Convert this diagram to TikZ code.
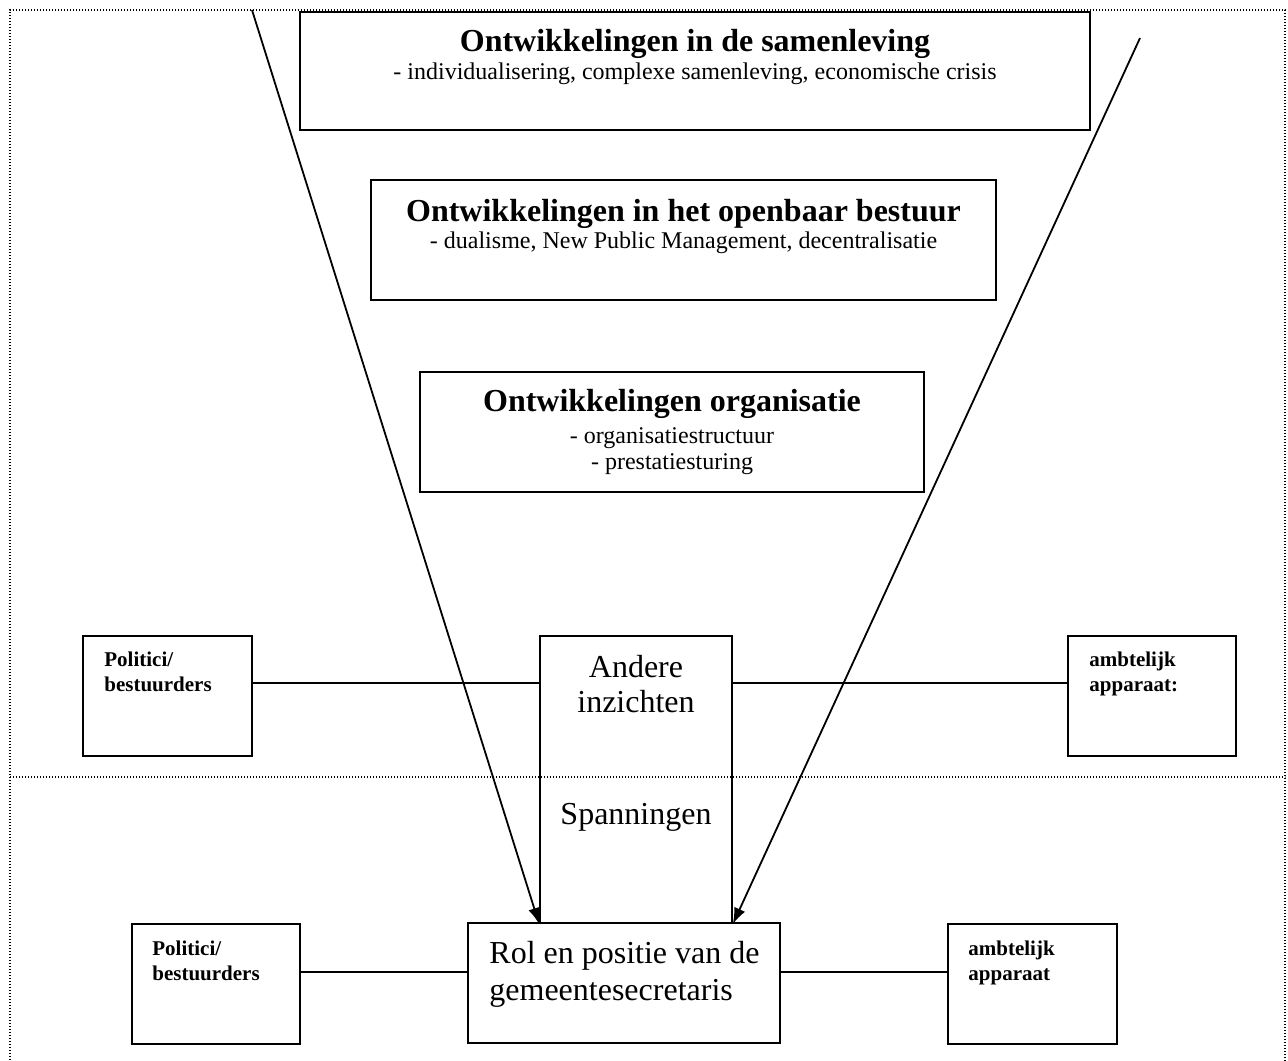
\documentclass[tikz,border=0pt]{standalone}
\usepackage{fontspec}
\setmainfont{Liberation Serif}
\usetikzlibrary{arrows.meta}

\begin{document}
\begin{tikzpicture}[x=0.5pt, y=-0.5pt,
    kader/.style={draw, line width=0.9pt, inner sep=0pt, minimum height=60pt},
    tekst/.style={inner sep=0pt, anchor=base},
    kop/.style={font=\fontsize{16}{19}\selectfont\bfseries},
    sub/.style={font=\fontsize{12}{13}\selectfont, align=center},
    groot/.style={font=\fontsize{16}{17.5}\selectfont},
    klein/.style={font=\fontsize{10.5}{12.5}\selectfont\bfseries, align=left, inner sep=0pt, anchor=base west},
    stip/.style={line width=0.7pt, dash pattern=on 0.7pt off 0.8pt},
    lijn/.style={line width=0.9pt},
    pijl/.style={line width=0.9pt, -{Latex[length=8pt, width=6pt]}}]
    \useasboundingbox (0,0) rectangle (1288,1060);
    \draw[stip] (10,1060) -- (10,10) -- (1285,10) -- (1285,1060);
    \draw[stip] (10,777) -- (1285,777);

    \node[kader, minimum width=395pt, minimum height=59pt] (samenleving) at (695,71) {};
    \node[kop, tekst] (samenlevingkop) at (695,51) {Ontwikkelingen in de samenleving};
    \node[sub, tekst] (samenlevingsub) at (695,79) {- individualisering, complexe samenleving, economische crisis};

    \node[kader, minimum width=312.5pt] (bestuur) at (683.5,240) {};
    \node[kop, tekst] (bestuurkop) at (683.5,221) {Ontwikkelingen in het openbaar bestuur};
    \node[sub, tekst] (bestuursub) at (683.5,248) {- dualisme, New Public Management, decentralisatie};

    \node[kader, minimum width=252pt] (organisatie) at (672,432) {};
    \node[kop, tekst] (organisatiekop) at (672,411) {Ontwikkelingen organisatie};
    \node[sub, tekst] (organisatiesub) at (672,469) {- organisatiestructuur\\- prestatiesturing};

    \node[kader, minimum width=96pt, minimum height=143.5pt] (andere) at (636,779.5) {};
    \node[groot, tekst, align=center] (anderetekst) at (636,712) {Andere\\inzichten};
    \node[groot, tekst] (spanningen) at (636,824) {Spanningen};

    \node[kader, minimum width=156pt] (rol) at (624,983) {};
    \node[groot, tekst, align=left, anchor=base west, font=\fontsize{16}{18.5}\selectfont] (roltekst) at (489,1000) {Rol en positie van de\\gemeentesecretaris};

    \node[kader, minimum width=84.5pt] (politiciA) at (167.5,696) {};
    \node[klein] (politiciAtekst) at (104,691) {Politici/\\bestuurders};
    \node[kader, minimum width=84pt] (ambtelijkA) at (1152,696) {};
    \node[klein] (ambtelijkAtekst) at (1089,691) {ambtelijk\\apparaat:};

    \node[kader, minimum width=84pt] (politiciB) at (216,984) {};
    \node[klein] (politiciBtekst) at (152,980) {Politici/\\bestuurders};
    \node[kader, minimum width=84.5pt] (ambtelijkB) at (1032.5,984) {};
    \node[klein] (ambtelijkBtekst) at (968,980) {ambtelijk\\apparaat};

    \draw[lijn] ([yshift=6.5pt]politiciA.east) -- ([yshift=6.5pt]politiciA.east -| andere.west);
    \draw[lijn] ([yshift=6.5pt]ambtelijkA.west) -- ([yshift=6.5pt]ambtelijkA.west -| andere.east);
    \draw[lijn] ([yshift=6pt]politiciB.east) -- ([yshift=6pt]politiciB.east -| rol.west);
    \draw[lijn] ([yshift=6pt]ambtelijkB.west) -- ([yshift=6pt]ambtelijkB.west -| rol.east);

    \coordinate (bovenL) at (252,10);
    \coordinate (bovenR) at (1140,38);
    \draw[pijl] (bovenL) -- (andere.south west);
    \draw[pijl] (bovenR) -- (andere.south east);
\end{tikzpicture}
\end{document}
